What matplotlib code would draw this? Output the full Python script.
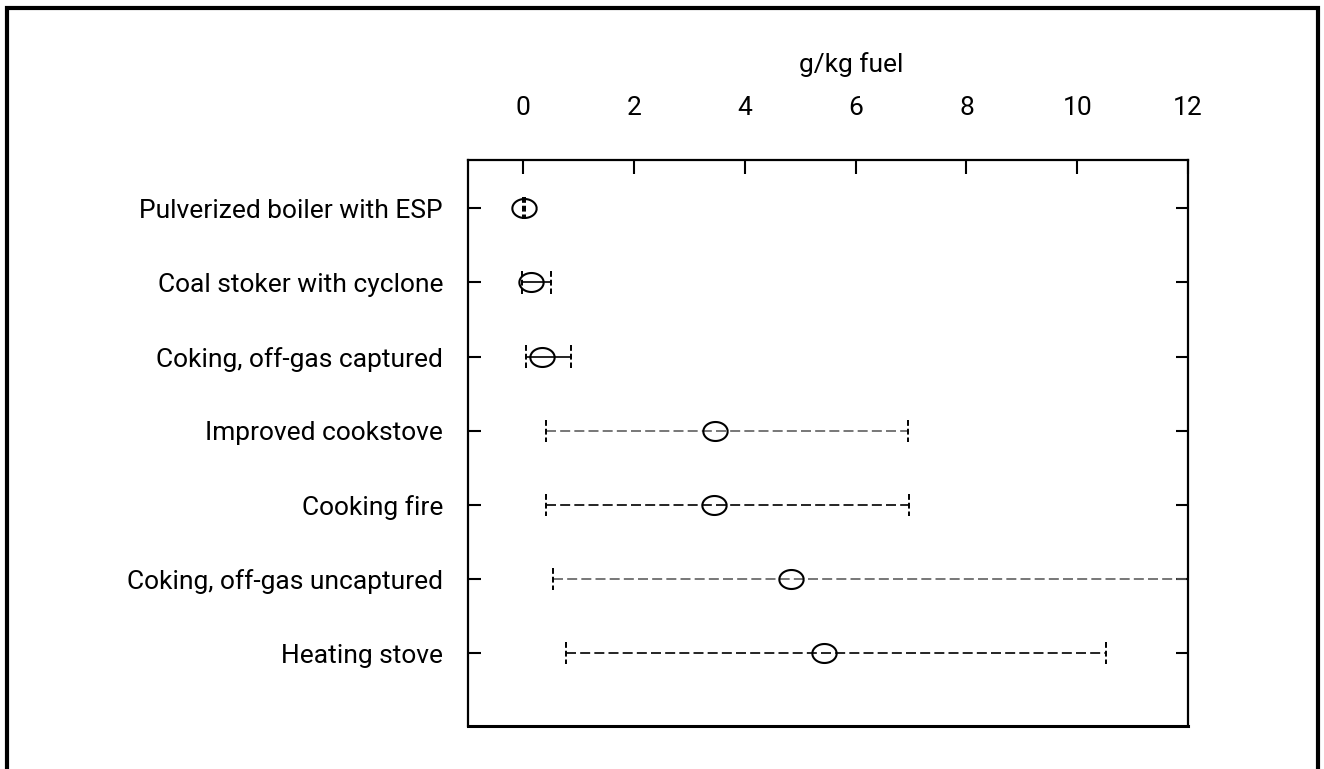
import matplotlib
matplotlib.use('Agg')
import matplotlib.pyplot as plt
import numpy as np
from matplotlib.path import Path
from matplotlib.patches import Rectangle

plt.rcParams['font.family'] = ['Liberation Sans Narrow', 'Roboto', 'DejaVu Sans']

# emission factors, g/kg fuel (central value with low / high range)
categories = [
    'Pulverized boiler with ESP',
    'Coal stoker with cyclone',
    'Coking, off-gas captured',
    'Improved cookstove',
    'Cooking fire',
    'Coking, off-gas uncaptured',
    'Heating stove',
]
central = [0.01, 0.14, 0.34, 3.46, 3.45, 4.83, 5.43]
low = [0.0, -0.02, 0.04, 0.41, 0.41, 0.54, 0.77]
high = [0.03, 0.50, 0.86, 6.95, 6.96, 13.5, 10.52]
bar_colors = ['#000000', '#000000', '#000000', '#606060', '#000000', '#606060', '#000000']
xticks = [0, 2, 4, 6, 8, 10, 12]

fig = plt.figure(figsize=(13.24, 7.69), dpi=100)
ax = fig.add_axes([0.3535, 0.0559, 0.5438, 0.7360])

# elliptic open marker
t = np.linspace(0, 2 * np.pi, 60)
ellipse = Path(np.column_stack([1.28 * np.cos(t), np.sin(t)]))

ypos = np.arange(1, len(categories) + 1)
for y, c, lo, hi, col in zip(ypos, central, low, high, bar_colors):
    solid = hi - lo < 1.0
    ax.plot([lo, hi], [y, y], color=col, lw=1.2,
            ls='-' if solid else (0, (6, 2.5)), zorder=2)
    for xc in (lo, hi):
        ax.plot([xc, xc], [y - 0.15, y + 0.15], color='black', lw=1.4,
                ls=(0, (3, 1.5)), zorder=2)
    ax.plot([c], [y], marker=ellipse, ms=17.5, mfc='none', mec='black',
            mew=1.5, ls='none', zorder=3)

ax.set_xlim(-1.0, 12.0)
ax.set_ylim(7.98, 0.35)
ax.set_yticks(ypos)
ax.set_yticklabels(categories)
ax.set_xticks(xticks)
ax.xaxis.tick_top()
ax.tick_params(axis='x', direction='in', length=10, width=1.5, pad=29,
               labelsize=19, top=True, bottom=False)
ax.tick_params(axis='y', direction='in', length=9, width=1.5, pad=18,
               labelsize=19, left=True, right=True)
ax.set_xlabel('g/kg fuel', fontsize=19)
ax.xaxis.set_label_position('top')
ax.xaxis.set_label_coords(0.532, 1.155)
for sp in ax.spines.values():
    sp.set_linewidth(1.6)
ax.spines['bottom'].set_linewidth(2.2)

# outer frame (bottom edge lies outside the picture)
fig.patches.append(Rectangle((6.5 / 1324, -0.05), 1311 / 1324, 1.05 - 7.5 / 769,
                             transform=fig.transFigure, fill=False,
                             lw=3.0, ec='black'))

fig.savefig('out.png', dpi=100)
plt.close()
